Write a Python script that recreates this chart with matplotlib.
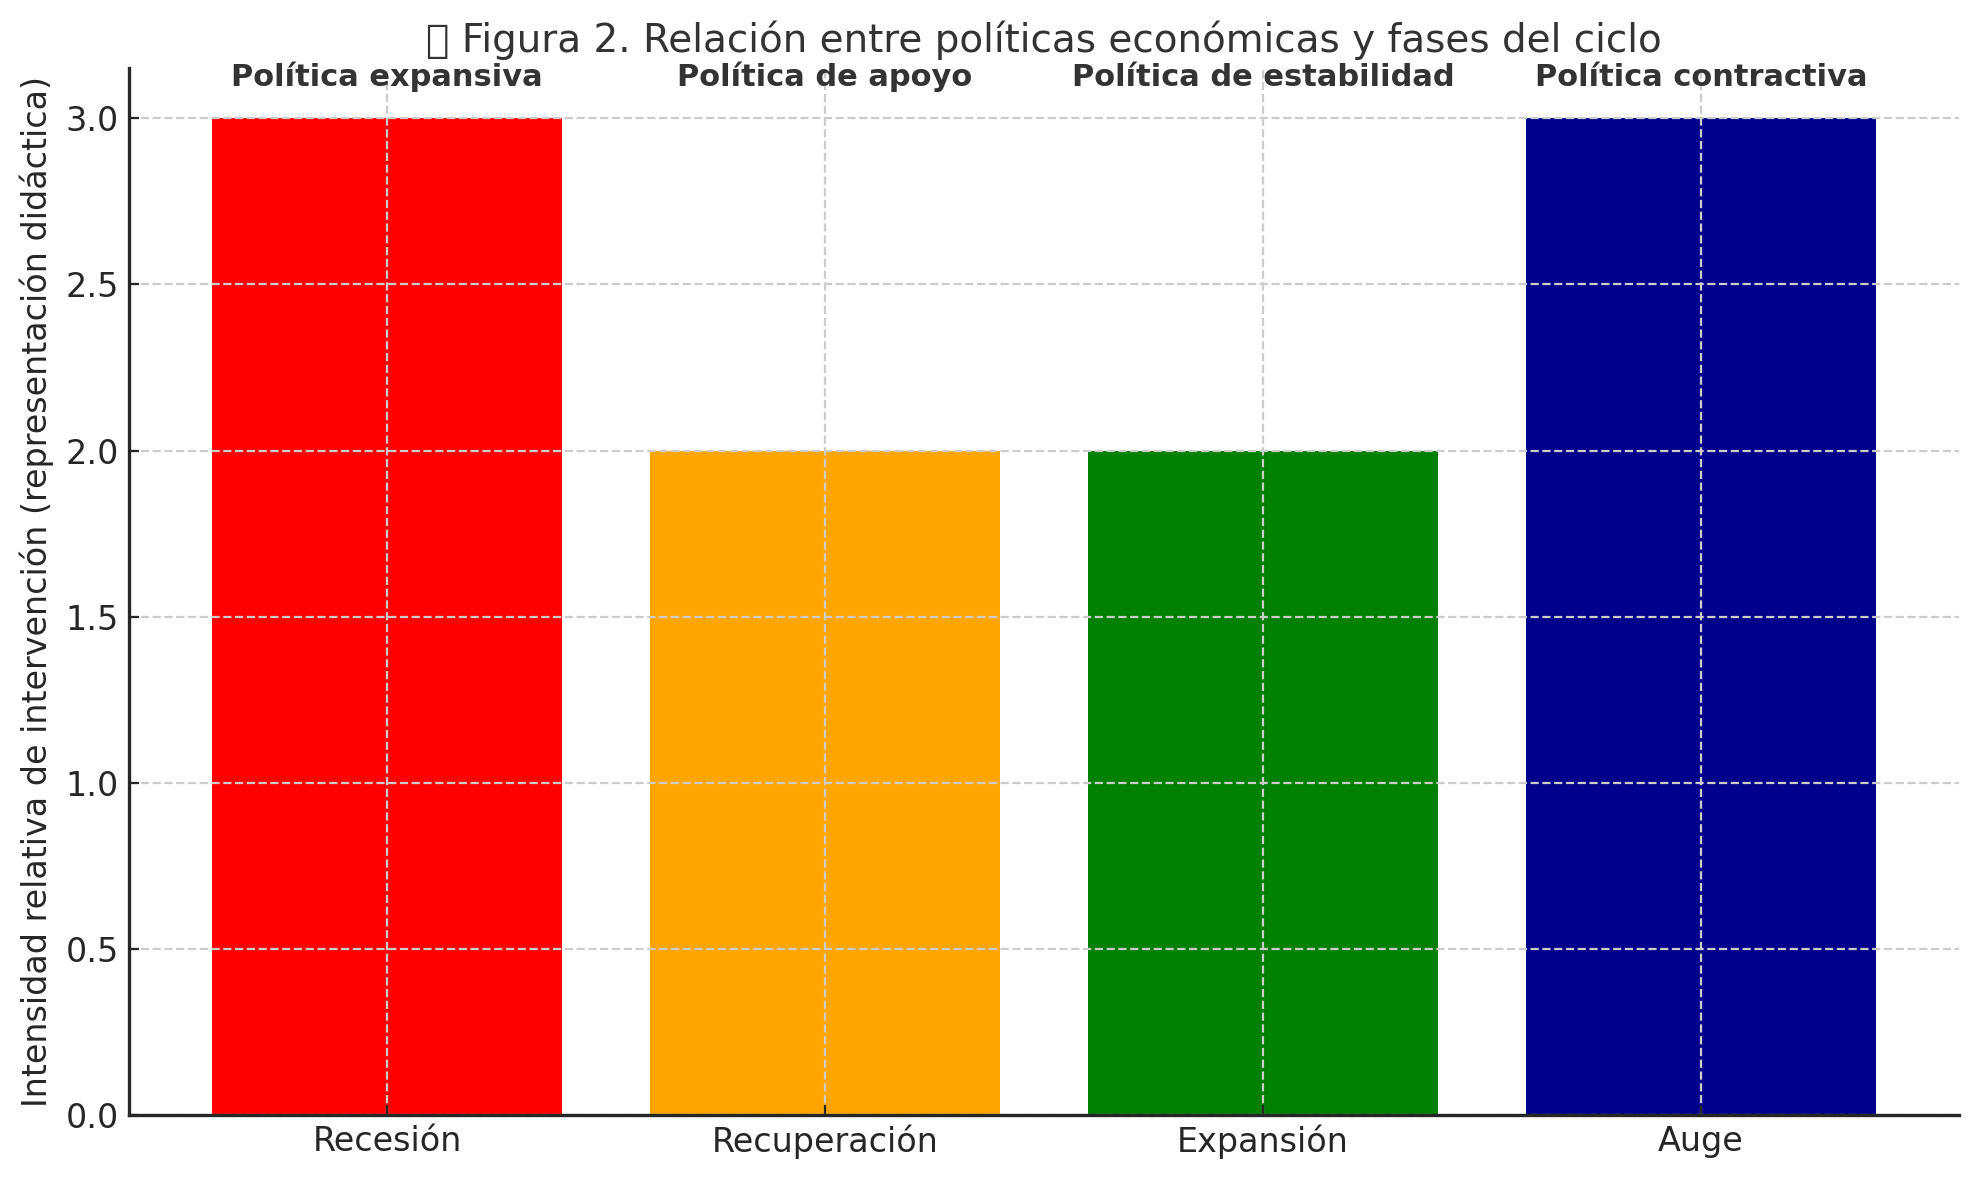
import matplotlib.pyplot as plt

fases = ["Recesión", "Recuperación", "Expansión", "Auge"]
intensidad = [3, 2, 2, 3]
politicas = ["Política expansiva", "Política de apoyo", "Política de estabilidad", "Política contractiva"]
colores = ["red", "orange", "green", "darkblue"]

plt.rcParams['font.family'] = ['DejaVu Sans']
plt.rcParams['text.color'] = '#333333'
plt.rcParams['xtick.color'] = '#262626'
plt.rcParams['ytick.color'] = '#262626'

fig, ax = plt.subplots(figsize=(9.895, 5.9), dpi=200)
ax.bar(fases, intensidad, color=colores)

# etiqueta de la politica encima de cada fase
for i, p in enumerate(politicas):
    ax.text(i, 3.08, p, ha='center', va='bottom', fontsize=11,
            fontweight='bold', color='#333333')

ax.set_title("📊 Figura 2. Relación entre políticas económicas y fases del ciclo",
             fontsize=14, color='#333333', pad=6)
ax.set_ylabel("Intensidad relativa de intervención (representación didáctica)",
              fontsize=12, color='#262626')
ax.tick_params(axis='both', labelsize=12, direction='in')
ax.grid(True, linestyle='--', color='#cccccc', linewidth=0.8)
ax.spines['top'].set_visible(False)
ax.spines['right'].set_visible(False)
for s in ['left', 'bottom']:
    ax.spines[s].set_color('#262626')
    ax.spines[s].set_linewidth(1.2)

fig.subplots_adjust(left=0.065, right=0.99, top=0.942, bottom=0.055)
fig.savefig("out.png", dpi=200)
